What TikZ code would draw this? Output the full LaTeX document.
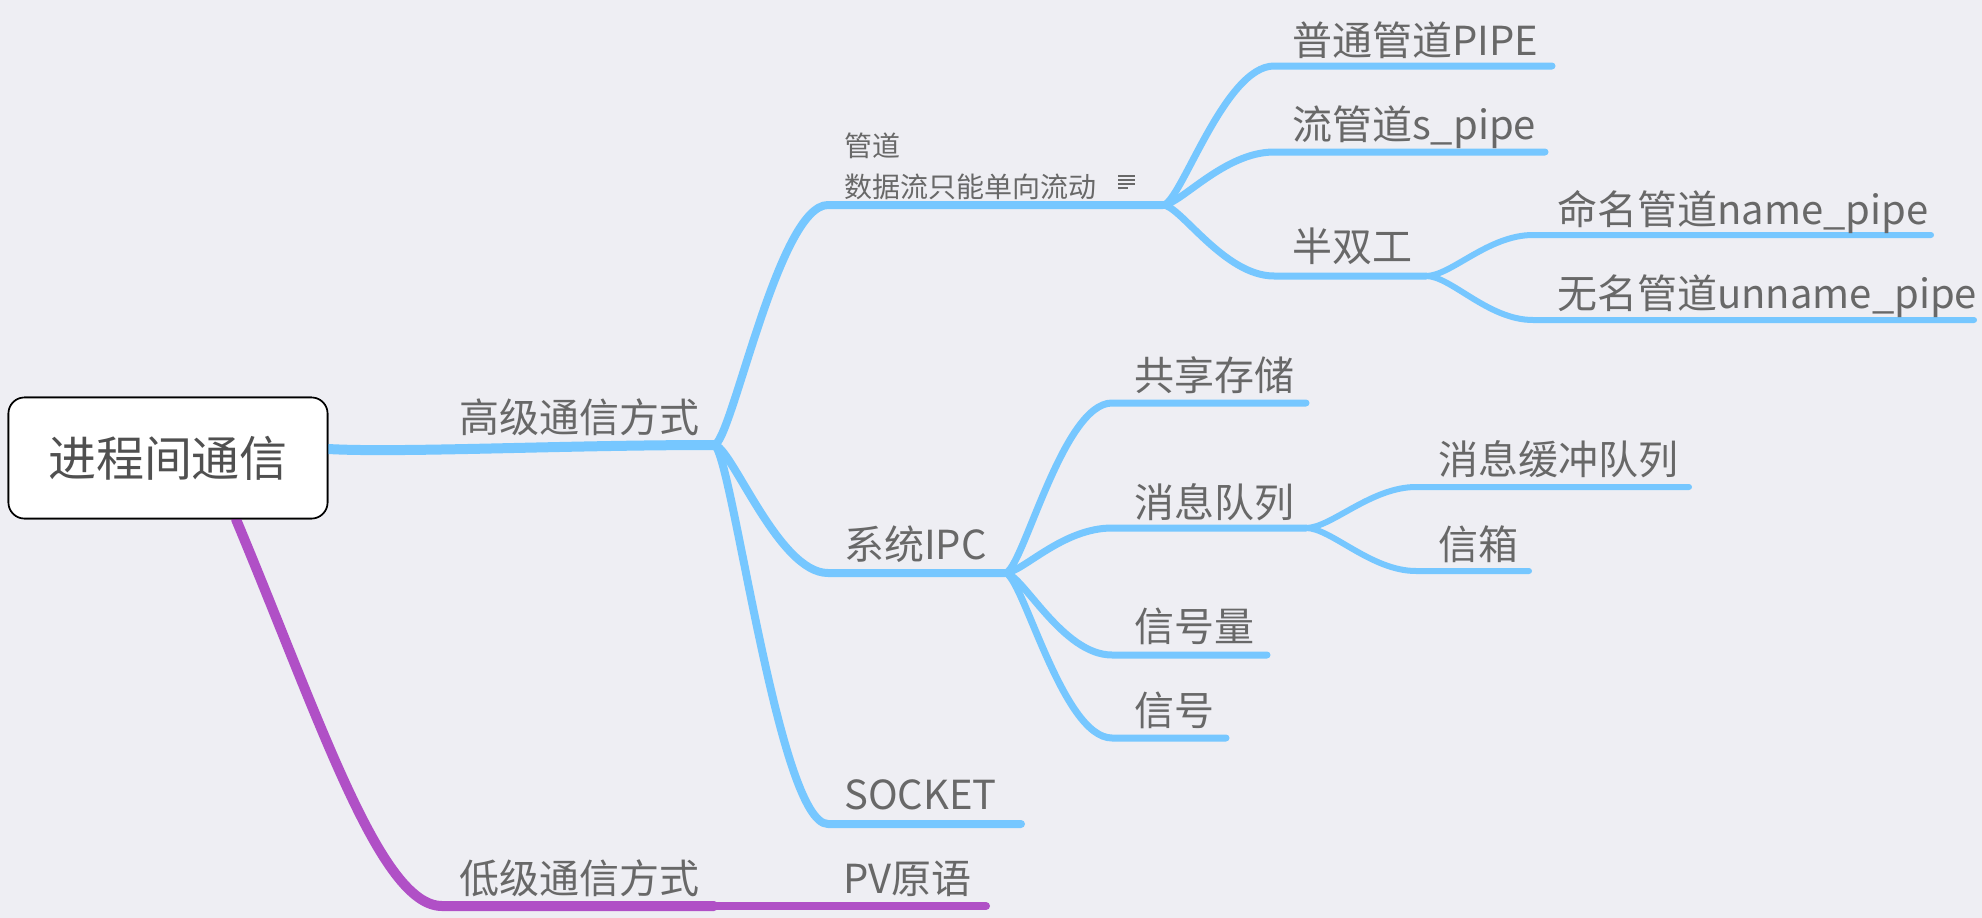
\documentclass[tikz,border=0pt]{standalone}
\usepackage{fontspec}
\setmainfont{Noto Sans CJK SC}
\definecolor{bgcol}{RGB}{238,238,243}
\definecolor{bluebr}{RGB}{118,199,255}
\definecolor{purplebr}{RGB}{176,80,198}
\definecolor{txtcol}{RGB}{104,104,104}
\definecolor{rootcol}{RGB}{80,80,80}
\tikzset{
  topic/.style={anchor=base west, inner sep=0pt, text=txtcol, font=\fontsize{40}{44}\selectfont},
  notetxt/.style={anchor=base west, inner sep=0pt, text=txtcol, font=\fontsize{28}{32}\selectfont},
  rootbox/.style={draw=black, fill=white, line width=1.6pt, rounded corners=16pt,
    minimum width=319pt, minimum height=121pt, text=rootcol, font=\fontsize{48}{52}\selectfont},
  bline/.style={bluebr, line cap=round, line join=round, line width=#1},
  pline/.style={purplebr, line cap=round, line join=round, line width=#1},
}
\begin{document}
\begin{tikzpicture}[x=1pt,y=-1pt]
  \fill[bgcol] (0,0) rectangle (1982,918);
  \useasboundingbox (0,0) rectangle (1982,918);

  % junctions and line ends
  \coordinate (hi) at (714,445);
  \coordinate (pipeS) at (828,205); \coordinate (pipe) at (1163,205);
  \coordinate (ipcS) at (828,573);  \coordinate (ipc) at (1005,573);
  \coordinate (sockS) at (828,824); \coordinate (sockE) at (1021,824);
  \coordinate (ppS) at (1274,66);   \coordinate (ppE) at (1552,66);
  \coordinate (spS) at (1274,152);  \coordinate (spE) at (1545,152);
  \coordinate (hdS) at (1274,276);  \coordinate (hd) at (1426,276);
  \coordinate (npS) at (1533,235);  \coordinate (npE) at (1931,235);
  \coordinate (upS) at (1533,320);  \coordinate (upE) at (1974,320);
  \coordinate (shmS) at (1112,403); \coordinate (shmE) at (1306,403);
  \coordinate (mqS) at (1112,528);  \coordinate (mq) at (1306,528);
  \coordinate (mbS) at (1416,487);  \coordinate (mbE) at (1689,487);
  \coordinate (mbxS) at (1416,571); \coordinate (mbxE) at (1529,571);
  \coordinate (semS) at (1112,655); \coordinate (semE) at (1267,655);
  \coordinate (sigS) at (1112,738); \coordinate (sigE) at (1226,738);
  \coordinate (lo) at (442,906);    \coordinate (loE) at (714,906);
  \coordinate (pvE) at (986,906);

  \node[rootbox] (root) at (168,458) {};

  % low level branch
  \draw[pline=10pt] ([xshift=68pt]root.south) .. controls (320,720) and (380,906) .. (lo) -- (loE);
  \draw[pline=8pt] (loE) -- (pvE);

  % high level branch
  \draw[bline=10pt] ([yshift=9pt]root.east) .. controls +(70,4) and +(-150,0) .. (hi);
  \draw[bline=8pt] (hi) .. controls +(17,0) and +(-50,0) .. (pipeS) -- (pipe);
  \draw[bline=8pt] (hi) .. controls +(17,0) and +(-50,0) .. (ipcS) -- (ipc);
  \draw[bline=8pt] (hi) .. controls +(17,0) and +(-50,0) .. (sockS) -- (sockE);

  \draw[bline=7pt] (pipe) .. controls +(17,0) and +(-50,0) .. (ppS) -- (ppE);
  \draw[bline=7pt] (pipe) .. controls +(17,0) and +(-50,0) .. (spS) -- (spE);
  \draw[bline=7pt] (pipe) .. controls +(17,0) and +(-50,0) .. (hdS) -- (hd);
  \draw[bline=6pt] (hd) .. controls +(25,0) and +(-45,0) .. (npS) -- (npE);
  \draw[bline=6pt] (hd) .. controls +(25,0) and +(-45,0) .. (upS) -- (upE);

  \draw[bline=7pt] (ipc) .. controls +(17,0) and +(-50,0) .. (shmS) -- (shmE);
  \draw[bline=7pt] (ipc) .. controls +(17,0) and +(-50,0) .. (mqS) -- (mq);
  \draw[bline=7pt] (ipc) .. controls +(17,0) and +(-50,0) .. (semS) -- (semE);
  \draw[bline=7pt] (ipc) .. controls +(17,0) and +(-50,0) .. (sigS) -- (sigE);
  \draw[bline=6pt] (mq) .. controls +(25,0) and +(-45,0) .. (mbS) -- (mbE);
  \draw[bline=6pt] (mq) .. controls +(25,0) and +(-45,0) .. (mbxS) -- (mbxE);

  % root on top
  \node[rootbox] (rootT) at (root) {进程间通信};

  % labels
  \node[topic] (hiT) at (459,432) {高级通信方式};
  \node[topic] (loT) at (459,893) {低级通信方式};
  \node[topic] (pvT) at (843,893) {PV原语};
  \node[notetxt] (pipeT) at (844,156) {管道};
  \node[notetxt] (pipeN) at (844,197) {数据流只能单向流动};
  \node[topic] (ipcT) at (844,559) {系统IPC};
  \node[topic] (sockT) at (844,809) {SOCKET};
  \node[topic] (ppT) at (1292,55) {普通管道PIPE};
  \node[topic] (spT) at (1292,139) {流管道s\_pipe};
  \node[topic] (hdT) at (1292,261) {半双工};
  \node[topic] (npT) at (1557,224) {命名管道name\_pipe};
  \node[topic] (upT) at (1557,308) {无名管道unname\_pipe};
  \node[topic] (shmT) at (1134,390) {共享存储};
  \node[topic] (mqT) at (1134,517) {消息队列};
  \node[topic] (mbT) at (1438,474) {消息缓冲队列};
  \node[topic] (mbxT) at (1438,559) {信箱};
  \node[topic] (semT) at (1134,641) {信号量};
  \node[topic] (sigT) at (1134,725) {信号};

  % note icon
  \foreach \y/\w in {176/17, 180/17, 184/17, 188/10}
    \draw[txtcol, line width=1.6pt] (1118,\y) -- ++(\w,0);
\end{tikzpicture}
\end{document}
